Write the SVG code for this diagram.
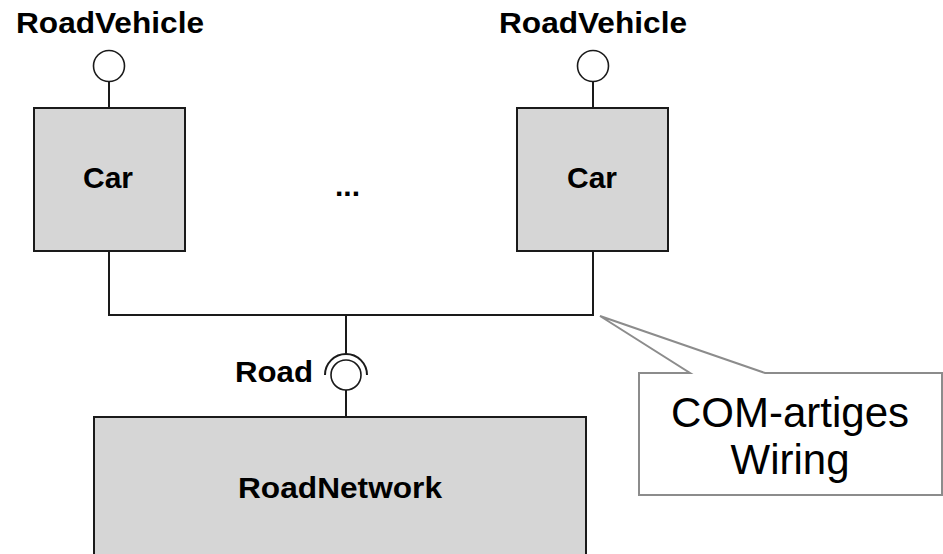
<svg xmlns="http://www.w3.org/2000/svg" width="943" height="554" viewBox="0 0 943 554">
  <style>
    .box { fill: #d6d6d6; stroke: #1a1a1a; stroke-width: 2; }
    .wire { fill: none; stroke: #1a1a1a; stroke-width: 2; }
    .lollipop { fill: #ffffff; stroke: #1a1a1a; stroke-width: 1.6; }
    .lbl { font-family: "Liberation Sans", Arial, sans-serif; font-weight: bold; font-size: 30px; fill: #000000; }
    .note { font-family: "Liberation Sans", Arial, sans-serif; font-size: 42px; fill: #000000; }
    .callout { fill: #ffffff; stroke: #8c8c8c; stroke-width: 2; stroke-linejoin: miter; }
  </style>

  <rect width="943" height="554" fill="#ffffff"/>

  <!-- connectors: provided interfaces, wiring bus and Road socket -->
  <g id="connectors">
    <line class="wire" x1="109" y1="82" x2="109" y2="108"/>
    <line class="wire" x1="593" y1="82" x2="593" y2="108"/>
    <polyline class="wire" points="109,251 109,315 593,315 593,251"/>
    <line class="wire" x1="346" y1="315" x2="346" y2="354"/>
    <path class="wire" d="M325,375 A21,21 0 0 1 367,375"/>
    <line class="wire" x1="346" y1="390" x2="346" y2="417"/>
  </g>

  <g id="car1">
    <circle class="lollipop" cx="109" cy="66" r="15.5"/>
    <text class="lbl" x="16" y="33" textLength="188" lengthAdjust="spacingAndGlyphs">RoadVehicle</text>
    <rect class="box" x="34" y="108" width="151" height="143"/>
    <text class="lbl" x="108" y="188" text-anchor="middle">Car</text>
  </g>

  <g id="ellipsis">
    <text class="lbl" x="335" y="196">...</text>
  </g>

  <g id="car2">
    <circle class="lollipop" cx="593" cy="66" r="15.5"/>
    <text class="lbl" x="499" y="33" textLength="188" lengthAdjust="spacingAndGlyphs">RoadVehicle</text>
    <rect class="box" x="517" y="108" width="151" height="143"/>
    <text class="lbl" x="592" y="188" text-anchor="middle">Car</text>
  </g>

  <g id="road-port">
    <circle class="lollipop" cx="346" cy="375" r="15"/>
    <text class="lbl" x="235" y="382" textLength="78" lengthAdjust="spacingAndGlyphs">Road</text>
  </g>

  <g id="roadnetwork">
    <rect class="box" x="94" y="417" width="492" height="150"/>
    <text class="lbl" x="238" y="498" textLength="204" lengthAdjust="spacingAndGlyphs">RoadNetwork</text>
  </g>

  <g id="note">
    <path class="callout" d="M639,373 L690,373 L600,316 L765,373 L942,373 L942,495 L639,495 Z"/>
    <text class="note" x="790" y="427" text-anchor="middle">COM-artiges</text>
    <text class="note" x="790" y="474" text-anchor="middle">Wiring</text>
  </g>
</svg>
